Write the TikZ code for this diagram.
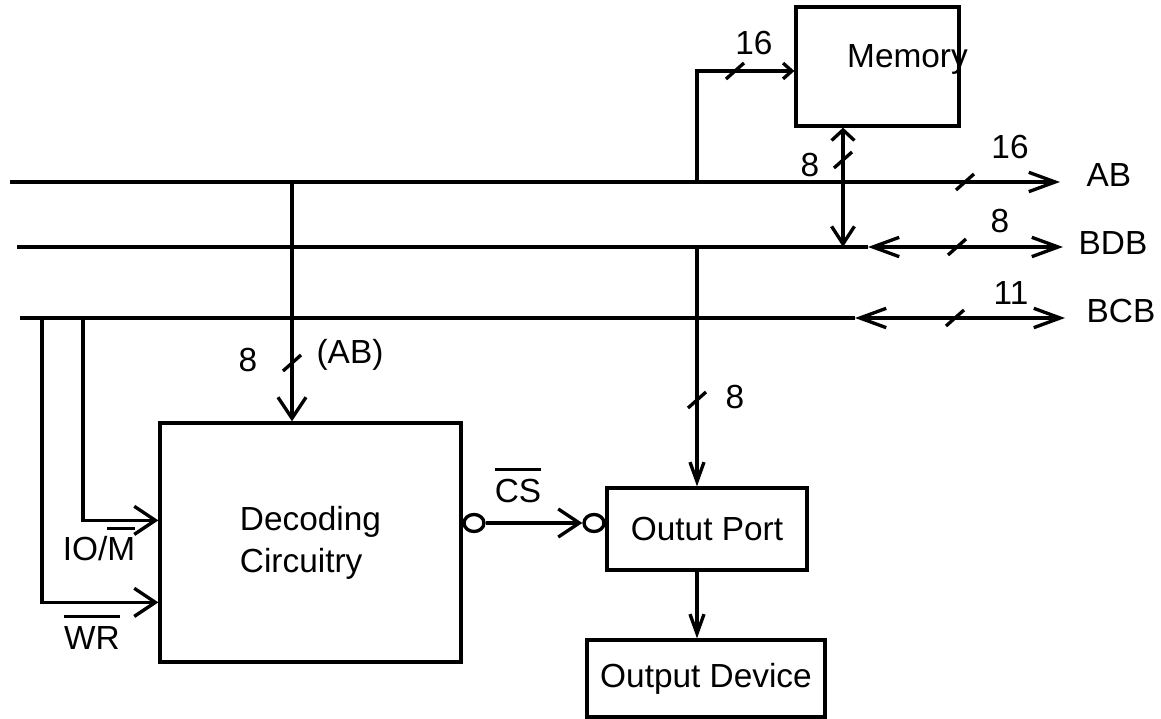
\documentclass[tikz,border=0pt]{standalone}
\usepackage{fontspec}
\setmainfont{Liberation Sans}
\usepackage{tikz}
\usetikzlibrary{arrows.meta,positioning,shapes.geometric,calc}
\newcommand{\ovl}[1]{\vbox{\hrule height 1.8pt\kern 4.5pt\hbox{#1}}}
\tikzset{
  blk/.style={rectangle, draw, line width=1.9pt, inner sep=0pt, align=center},
  bubble/.style={ellipse, draw, line width=1.9pt, minimum width=0.4cm, minimum height=0.34cm, inner sep=0pt},
  bustip/.tip={Straight Barb[length=15pt,width=11pt]},
  sigtip/.tip={Straight Barb[length=12pt,width=16pt]},
  porttip/.tip={Straight Barb[length=11pt,width=8pt]},
  smalltip/.tip={Straight Barb[length=5pt,width=9pt]},
  uptip/.tip={Straight Barb[length=6pt,width=13pt]},
  downtip/.tip={Straight Barb[length=10pt,width=13pt]}
}
\begin{document}
\begin{tikzpicture}[x=0.02cm,y=-0.02cm,line width=1.9pt,every node/.style={font=\fontsize{19}{24}\selectfont}]
\useasboundingbox (0,0) rectangle (1161,719);

% blocks
\node[blk, minimum width=3.26cm, minimum height=2.38cm, label={[xshift=0.6cm,yshift=0.14cm]center:Memory}] (mem) at (877.5,66.5) {};
\node[blk, align=left, minimum width=6.02cm, minimum height=4.78cm] (dec) at (310.5,542.5) {Decoding\\Circuitry};
\node[blk, minimum width=4cm, minimum height=1.64cm] (port) at (707,529) {Outut Port};
\node[blk, minimum width=4.76cm, minimum height=1.54cm] (dev) at (706,678.5) {Output Device};

% bus names
\node[anchor=west, inner sep=0pt] (ab) at (1085,175) {AB};
\node[anchor=west, inner sep=0pt] (bdb) at (1077,243) {BDB};
\node[anchor=west, inner sep=0pt] (bcb) at (1085,311) {BCB};

% bus ends and taps
\coordinate (abL) at (10,182);
\coordinate (bdbL) at (17,247);
\coordinate (bcbL) at (20,318);
\coordinate (abtap) at (292,182);
\coordinate (memtap) at (697,182);
\coordinate (bdbtap) at (697,247);
\coordinate (memlink) at (843,247);
\coordinate (bdbarr) at (868,247);
\coordinate (bcbarr) at (855,318);
\coordinate (iomtap) at (83,318);
\coordinate (wrtap) at (42,318);

% buses
\draw[-bustip, shorten >=0.5cm] (abL) -- (abL -| ab.west);
\draw (bdbL) -- (bdbarr);
\draw[bustip-bustip, shorten >=0.28cm] (bdbarr) -- (bdbarr -| bdb.west);
\draw (bcbL) -- (bcbarr);
\draw[bustip-bustip, shorten >=0.4cm] (bcbarr) -- (bcbarr -| bcb.west);

% branches
\draw[-sigtip] (abtap) -- (abtap |- dec.north);
\draw[-smalltip] (memtap) |- ($(mem.west)+(0,4.5)$);
\draw[uptip-downtip] (memlink |- mem.south) -- (memlink);
\draw[-porttip] (bdbtap) -- (bdbtap |- port.north);
\draw[-porttip] (bdbtap |- port.south) -- (bdbtap |- dev.north);
\draw[-sigtip] (iomtap) |- ($(dec.north west)+(0,99)$);
\draw[-sigtip] (wrtap) |- ($(dec.north west)+(0,181)$);

% chip select
\node[bubble] (csout) at (474,523) {};
\node[bubble] (csin) at (594,523) {};
\draw[-sigtip] (csout) -- (csin);

% bus width marks
\foreach \sx/\sy in {735/71, 843/160, 965/182, 957/247, 955/318, 292/363, 697/400}
  \draw (\sx-9,\sy+8) -- ++(18,-16);

% labels
\node (w16m) at (754,43) {16};
\node (w8m) at (810,165) {8};
\node (w16ab) at (1010,147) {16};
\node (w8bdb) at (1000,221) {8};
\node (w11bcb) at (1011,293) {11};
\node (w8dec) at (248,360) {8};
\node (abtag) at (350,355) {(AB)};
\node (w8port) at (735,397) {8};
\node (cs) at (518,485) {\ovl{CS}};
\node (iom) at (99,544) {IO/\ovl{M}};
\node (wr) at (92,632) {\ovl{WR}};

\end{tikzpicture}
\end{document}
